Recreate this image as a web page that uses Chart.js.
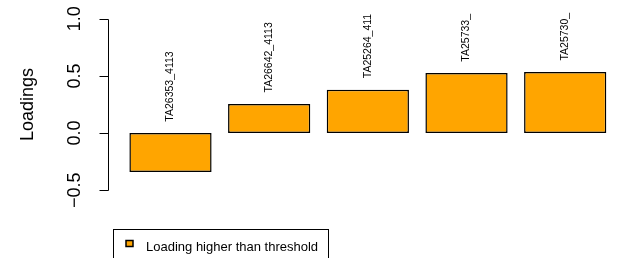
<!DOCTYPE html>
<html>
<head>
<meta charset="utf-8">
<script src="https://cdn.jsdelivr.net/npm/chart.js@4/dist/chart.umd.min.js"></script>
<style>
  html, body { margin: 0; padding: 0; background: #fff; }
  #wrap { width: 617px; height: 258px; position: relative; }
</style>
</head>
<body>
<div id="wrap"><canvas id="chart"></canvas></div>
<script>
// data
const barNames   = ['TA26353_4113', 'TA26642_4113', 'TA25264_411', 'TA25733_', 'TA25730_'];
const loadings   = [-0.34, 0.255, 0.38, 0.525, 0.535];
const barCenters = [0.7, 1.9, 3.1, 4.3, 5.5];     // R barplot positions
const yTicks     = [-0.5, 0, 0.5, 1.0];
const yTickText  = ['\u22120.5', '0.0', '0.5', '1.0'];
const legendText = 'Loading higher than threshold';

const FONT = "'Liberation Sans', Arial, sans-serif";
const ORANGE = '#FFA500';

// axis line + ticks, tick labels, bar labels and boxed legend, R style
const rDecor = {
  id: 'rDecor',
  afterDatasetsDraw(chart) {
    const ctx = chart.ctx;
    const ys = chart.scales.y;
    const ax = chart.chartArea.left + 0.5;
    ctx.save();

    ctx.strokeStyle = '#000';
    ctx.lineWidth = 1;
    ctx.beginPath();
    ctx.moveTo(ax, Math.round(ys.getPixelForValue(yTicks[0])) + 0.5);
    ctx.lineTo(ax, Math.round(ys.getPixelForValue(yTicks[yTicks.length - 1])) + 0.5);
    yTicks.forEach(v => {
      const y = Math.round(ys.getPixelForValue(v)) + 0.5;
      ctx.moveTo(ax, y);
      ctx.lineTo(ax - 9, y);
    });
    ctx.stroke();

    // rotated tick labels
    ctx.fillStyle = '#000';
    ctx.font = '18px ' + FONT;
    ctx.textAlign = 'center';
    ctx.textBaseline = 'alphabetic';
    yTicks.forEach((v, i) => {
      ctx.save();
      ctx.translate(80, ys.getPixelForValue(v));
      ctx.rotate(-Math.PI / 2);
      ctx.fillText(yTickText[i], 0, 0);
      ctx.restore();
    });

    // names above bars
    ctx.font = '10.5px ' + FONT;
    ctx.textAlign = 'left';
    ctx.textBaseline = 'middle';
    chart.getDatasetMeta(0).data.forEach((bar, i) => {
      const y = ys.getPixelForValue(Math.max(loadings[i], 0) + 0.1);
      ctx.save();
      ctx.translate(bar.x, y);
      ctx.rotate(-Math.PI / 2);
      ctx.fillText(barNames[i], 0, 0);
      ctx.restore();
    });

    // legend box
    ctx.lineWidth = 1;
    ctx.strokeRect(113.5, 229.5, 215, 40);
    ctx.fillStyle = ORANGE;
    ctx.lineWidth = 1.5;
    ctx.fillRect(126, 240.5, 7, 6);
    ctx.strokeRect(126, 240.5, 7, 6);
    ctx.fillStyle = '#000';
    ctx.font = '13px ' + FONT;
    ctx.textBaseline = 'alphabetic';
    ctx.fillText(legendText, 146, 251);

    ctx.restore();
  }
};

new Chart(document.getElementById('chart'), {
  type: 'bar',
  data: {
    datasets: [{
      label: legendText,
      data: barCenters.map((x, i) => ({ x: x, y: loadings[i] })),
      backgroundColor: ORANGE,
      borderColor: '#000',
      borderWidth: 1.5,
      borderSkipped: false,
      categoryPercentage: 1,
      barPercentage: 1 / 1.2
    }]
  },
  options: {
    responsive: true,
    maintainAspectRatio: false,
    animation: false,
    layout: { padding: { top: 12, bottom: 61, left: 0, right: 0 } },
    plugins: { legend: { display: false }, tooltip: { enabled: false } },
    scales: {
      x: {
        type: 'linear',
        display: false,
        offset: false,
        min: -0.06,
        max: 6.13,
        afterBuildTicks(scale) { scale.ticks = barCenters.map(v => ({ value: v })); }
      },
      y: {
        min: -0.56,
        max: 1.06,
        afterBuildTicks(scale) { scale.ticks = yTicks.map(v => ({ value: v })); },
        afterFit(scale) { scale.width = 108; },
        border: { display: false },
        grid: { display: false },
        ticks: { display: false },
        title: {
          display: true,
          text: 'Loadings',
          color: '#000',
          font: { family: FONT, size: 18 },
          padding: { top: 17, bottom: 0 }
        }
      }
    }
  },
  plugins: [rDecor]
});
</script>
</body>
</html>
